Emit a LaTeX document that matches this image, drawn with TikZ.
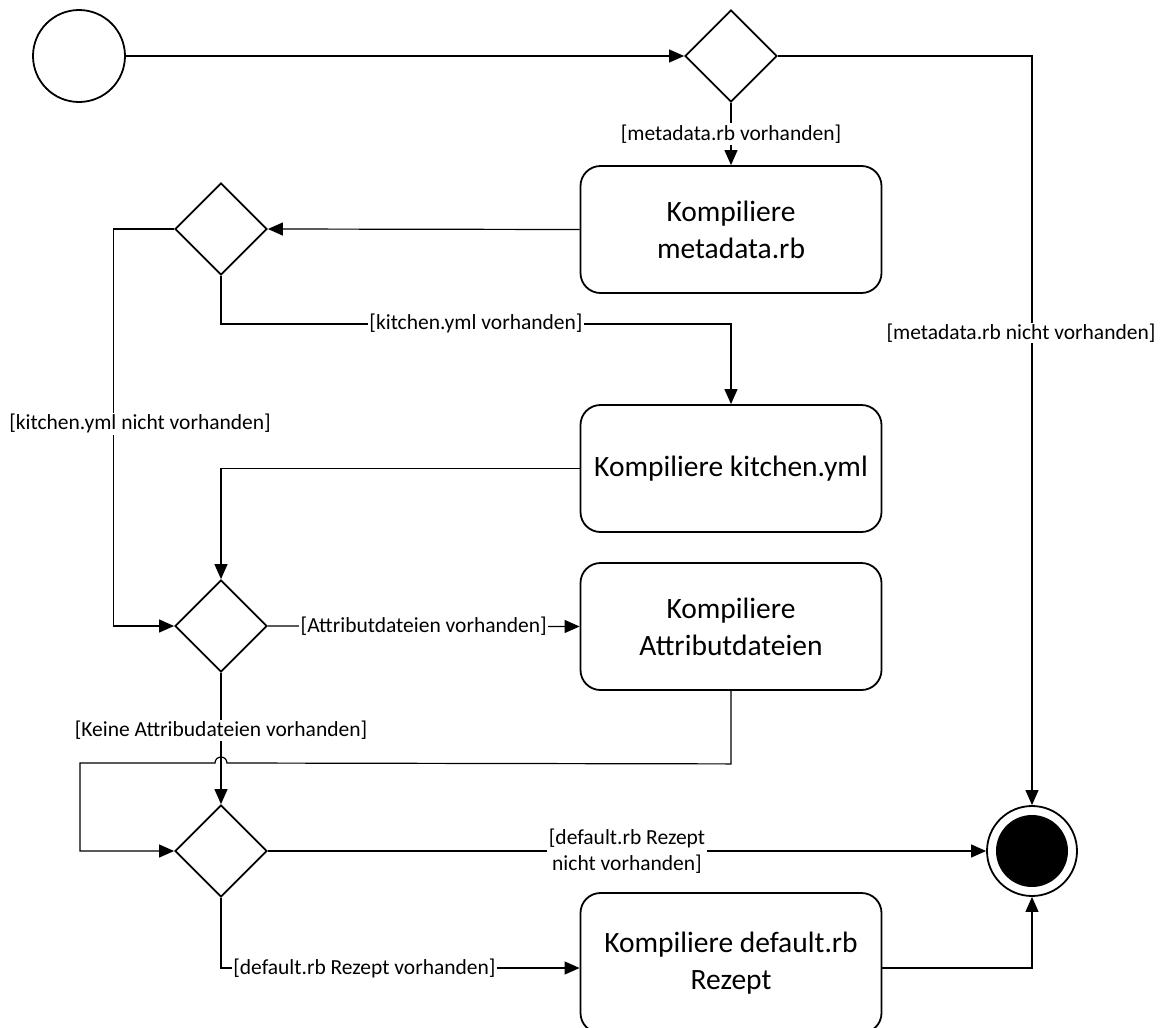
\documentclass[tikz,border=0pt]{standalone}
\usepackage{fontspec}
\setmainfont{Carlito}
\usetikzlibrary{shapes.geometric,arrows.meta}
\begin{document}
\begin{tikzpicture}[x=1pt,y=-1pt,
  actbox/.style={draw, line width=1.8pt, rounded corners=20pt,
    minimum width=301pt, minimum height=127pt, align=center,
    font=\fontsize{29.5}{37}\selectfont, inner sep=0pt},
  decision/.style={draw, diamond, line width=1.8pt,
    minimum width=92pt, minimum height=92pt, inner sep=0pt},
  flow/.style={line width=1.2pt, -{Triangle[length=15pt,width=13pt]}},
  guard/.style={fill=white, inner sep=1.5pt,
    font=\fontsize{21.5}{26}\selectfont, align=center},
]
\useasboundingbox (0,0) rectangle (1162,1028);

% start and end states
\node[draw, circle, line width=1.8pt, minimum size=92pt, inner sep=0pt] (start) at (79,56) {};
\node[draw, circle, line width=1.8pt, minimum size=90pt, inner sep=0pt] (final) at (1032,851) {};
\node[circle, fill=black, minimum size=72pt, inner sep=0pt] (finalcore) at (final.center) {};

% decisions
\node[decision] (d1) at (731,56) {};
\node[decision] (d2) at (221,229) {};
\node[decision] (d3) at (221,626) {};
\node[decision] (d4) at (221,851) {};

% actions
\node[actbox] (b1) at (731,229.5) {Kompiliere\\metadata.rb};
\node[actbox] (b2) at (731,468.5) {Kompiliere kitchen.yml};
\node[actbox] (b3) at (731,626.5) {Kompiliere\\Attributdateien};
\node[actbox, minimum height=140pt] (b4) at (731,963) {Kompiliere default.rb\\Rezept};

% flows
\draw[flow] (start) -- (d1.west);
\draw[flow] (d1.south) -- node[guard] {[metadata.rb vorhanden]} (b1.north);
\draw[flow] (d1.east) -| node[guard, pos=0.685, xshift=-11pt, inner sep=0.5pt] {[metadata.rb nicht vorhanden]} (final.north);
\draw[flow] (b1.west) -- (d2.east);
\draw[flow] (d2.west) -- ++(-61,0) |- node[guard, pos=0.245, xshift=27pt] {[kitchen.yml nicht vorhanden]} (d3.west);
\draw[flow] (d2.south) -- ++(0,48) -| node[guard, pos=0.25] {[kitchen.yml vorhanden]} (b2.north);
\draw[flow] (b2.west) -| (d3.north);
\draw[flow] (d3.east) -- node[guard] {[Attributdateien vorhanden]} (b3.west);
\draw[flow] (d3.south) -- node[guard, pos=0.44] {[Keine Attribudateien vorhanden]} (d4.north);
\draw[flow] (b3.south) -- ++(0,73) -- (227,763)
  arc[start angle=0, end angle=180, radius=6pt] -- (80,763) |- (d4.west);
\draw[flow] (d4.east) -- node[guard] {[default.rb Rezept\\nicht vorhanden]} (final.west);
\draw[flow] (d4.south) |- node[guard, pos=0.70] {[default.rb Rezept vorhanden]} ([yshift=-5pt]b4.west);
\draw[flow] ([yshift=-5pt]b4.east) -| (final.south);
\end{tikzpicture}
\end{document}
